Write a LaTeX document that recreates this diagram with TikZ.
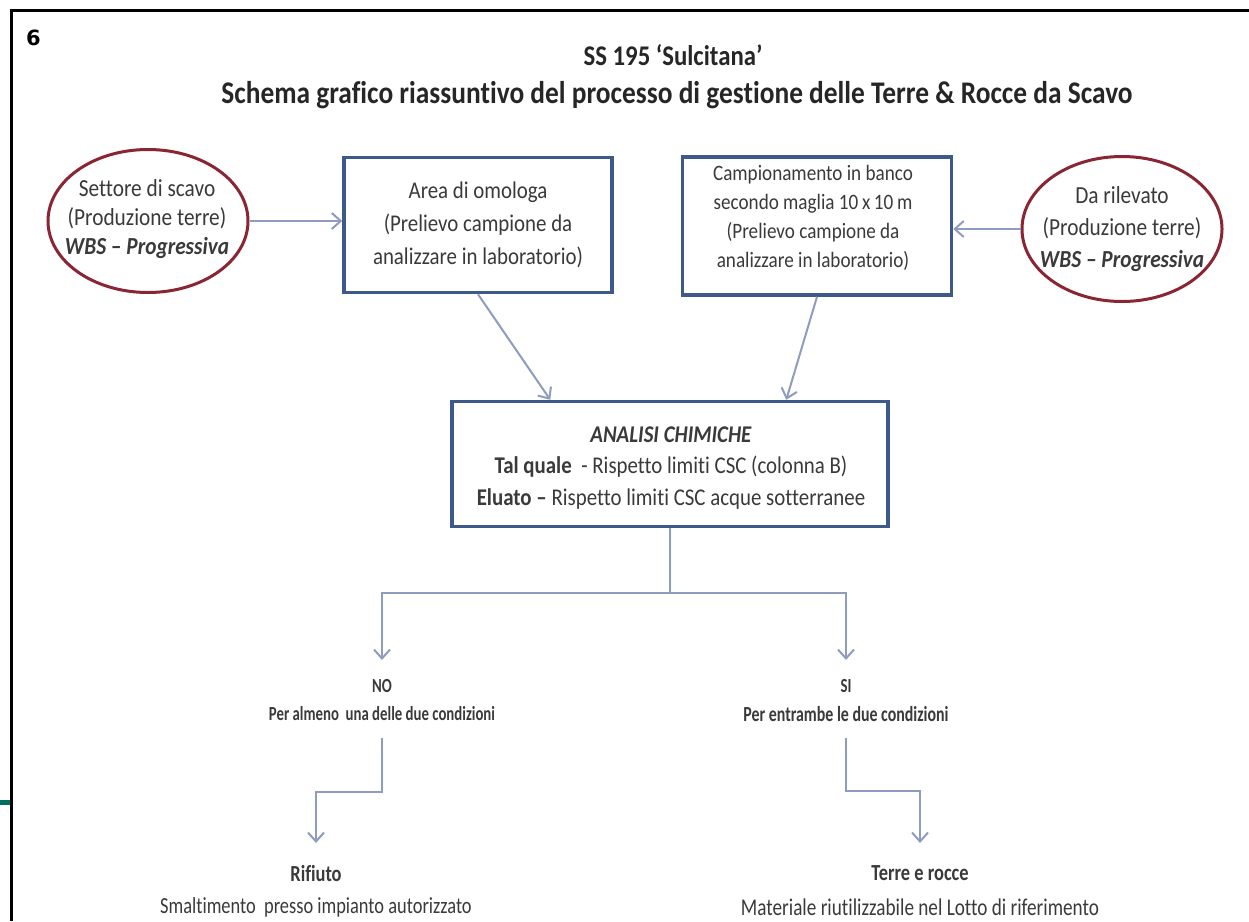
\documentclass[tikz,border=0pt]{standalone}
\usepackage{fontspec}
\setmainfont[FakeStretch=0.87,Ligatures=NoCommon]{Carlito}
\newfontfamily\condfont[FakeStretch=0.74,Ligatures=NoCommon]{Carlito}
\newfontfamily\semifont[FakeStretch=0.8,Ligatures=NoCommon]{Carlito}
\newfontfamily\numfont{DejaVu Sans}
\usetikzlibrary{arrows.meta,shapes.geometric}
\definecolor{boxblue}{HTML}{3E5A8A}
\definecolor{ellred}{HTML}{8A2633}
\definecolor{conn}{HTML}{8F9CBF}
\definecolor{txt}{HTML}{3A3A3A}
\definecolor{stubgreen}{HTML}{00705E}
\newcommand\fs[2]{\fontsize{#1}{#2}\selectfont}
\begin{document}
\begin{tikzpicture}[x=1pt,y=-1pt,
  every node/.style={text=txt, inner sep=0pt},
  boxnode/.style={draw=boxblue, line width=3.5pt, rectangle},
  ellnode/.style={draw=ellred, line width=3pt, ellipse},
  conline/.style={draw=conn, line width=2pt},
  conarrow/.style={conline, -{Straight Barb[length=9pt,width=16pt]}},
  frameline/.style={draw=black, line width=3pt},
  ttl/.style={text=black!85},
  condlbl/.style={font=\condfont\fs{20}{22}\bfseries},
  resttl/.style={font=\semifont\fs{23}{26}\bfseries},
  restxt/.style={font=\semifont\fs{23}{26}},
]
\useasboundingbox (0,0) rectangle (1249,921);
\fill[white] (0,0) rectangle (1249,921);
% frame
\coordinate (ftl) at (11,10);
\coordinate (ftr) at (1249,10);
\coordinate (fbl) at (11,921);
\draw[frameline] (fbl) -- (ftl) -- (ftr);
\coordinate (gs1) at (0,802);
\coordinate (gs2) at (10,802);
\draw[draw=stubgreen, line width=5pt] (gs1) -- (gs2);
\node[anchor=north west, text=black, font=\numfont\bfseries\fs{21}{22}] (num) at (26,30) {6};
% titles
\node[ttl, font=\fs{28.5}{32}\bfseries] (t1) at (673,55) {SS 195 ‘Sulcitana’};
\node[ttl, font=\fs{31.5}{34}\bfseries] (t2) at (677,95) {Schema grafico riassuntivo del processo di gestione delle Terre \& Rocce da Scavo};
% ellipses
\node[ellnode, minimum width=200, minimum height=143] (e1) at (148,221) {};
\node[align=center, font=\fs{24.5}{29}] (e1t) at (147,219) {Settore di scavo\\(Produzione terre)\\\textbf{\itshape WBS -- Progressiva}};
\node[ellnode, minimum width=200, minimum height=145] (e2) at (1122,229) {};
\node[align=center, font=\fs{24.5}{32}] (e2t) at (1122,229) {Da rilevato\\(Produzione terre)\\\textbf{\itshape WBS -- Progressiva}};
% boxes
\node[boxnode, minimum width=268, minimum height=135] (b1) at (478,225) {};
\node[align=center, font=\fs{24}{33}] (b1t) at (478,225) {Area di omologa\\(Prelievo campione da\\analizzare in laboratorio)};
\node[boxnode, minimum width=269, minimum height=138] (b2) at (817,226) {};
\node[align=center, font=\fs{22}{29}] (b2t) at (813,218) {Campionamento in banco\\secondo maglia 10\,x\,10\,m\\(Prelievo campione da\\analizzare in laboratorio)};
\node[boxnode, minimum width=436, minimum height=125] (c) at (670,464) {};
\node[align=center, font=\fs{24}{31.5}] (ct) at (671,468) {\textbf{\itshape ANALISI CHIMICHE}\\\textbf{Tal quale}~ - Rispetto limiti CSC (colonna B)\\\textbf{Eluato --} Rispetto limiti CSC acque sotterranee};
% connectors top
\draw[conarrow] (e1) -- (e1 -| b1.west);
\draw[conarrow] (e2.west) -- (e2.west -| b2.east);
\path (c.north west) ++(100,0) coordinate (cin1);
\path (c.north west) ++(336,0) coordinate (cin2);
\draw[conarrow] (b1.south) -- (cin1);
\draw[conarrow] (b2.south) -- (cin2);
% split
\coordinate (split) at (670,593);
\coordinate (noend) at (382,660);
\coordinate (siend) at (846,660);
\draw[conline] (c.south) -- (split);
\draw[conarrow] (split) -| (noend);
\draw[conarrow] (split) -| (siend);
% labels
\node[condlbl] (no) at (382,686) {NO};
\node[condlbl] (nocond) at (382,714) {Per almeno~ una delle due condizioni};
\node[condlbl] (si) at (846,686) {SI};
\node[condlbl, font=\condfont\fs{21.5}{22}\bfseries] (sicond) at (846,714) {Per entrambe le due condizioni};
% lower connectors
\coordinate (nostart) at (382,738);
\coordinate (noturn) at (382,792);
\coordinate (rifend) at (316,843);
\draw[conarrow] (nostart) -- (noturn) -| (rifend);
\coordinate (sistart) at (846,738);
\coordinate (siturn) at (846,791);
\coordinate (terend) at (920,843);
\draw[conarrow] (sistart) -- (siturn) -| (terend);
% results
\node[resttl] (rif) at (316,873) {Rifiuto};
\node[restxt] (rift) at (316,907) {Smaltimento~ presso impianto autorizzato};
\node[resttl] (ter) at (920,873) {Terre e rocce};
\node[restxt, font=\semifont\fs{24}{26}] (tert) at (920,907) {Materiale riutilizzabile nel Lotto di riferimento};
\end{tikzpicture}
\end{document}
